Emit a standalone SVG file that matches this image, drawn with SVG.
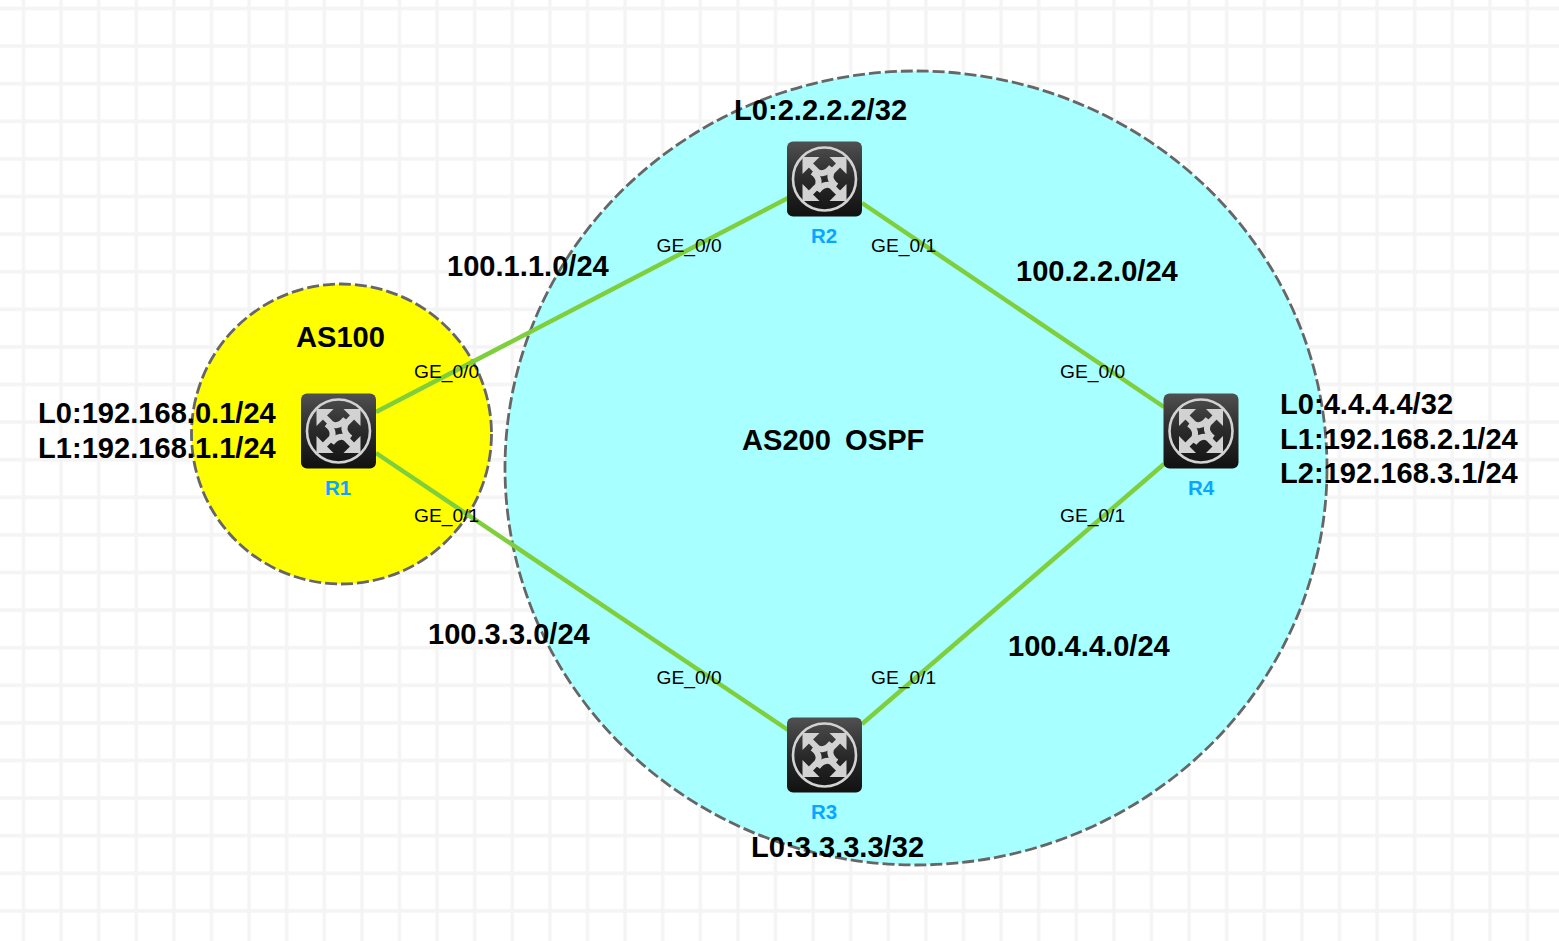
<svg xmlns="http://www.w3.org/2000/svg" width="1559" height="941" viewBox="0 0 1559 941">
<defs>
<pattern id="grid" width="37.6" height="37.6" patternUnits="userSpaceOnUse" x="4.7" y="-10.3">
<path d="M18.8 0V37.6M0 18.8H37.6" stroke="#f4f4f4" stroke-width="3.400" fill="none"/>
</pattern>
<linearGradient id="body" x1="0" y1="0" x2="0" y2="1"><stop offset="0" stop-color="#505050"/><stop offset="0.5" stop-color="#2a2a2a"/><stop offset="1" stop-color="#111"/></linearGradient>
<g id="arm">
<path d="M-22-22H-5L-22-5Z" fill="#d2d2d2"/>
<path d="M-15-15L-9-9C-5-4 2-5 7-12" fill="none" stroke="#d2d2d2" stroke-width="6"/>
</g>
<g id="router">
<rect x="-37.500" y="-37.500" width="75" height="75" rx="6" fill="url(#body)"/>
<circle r="31.500" fill="none" stroke="#d2d2d2" stroke-width="2.600"/>
<use href="#arm"/>
<use href="#arm" transform="rotate(90)"/>
<use href="#arm" transform="rotate(180)"/>
<use href="#arm" transform="rotate(270)"/>
</g>
</defs>
<style>
.b{font-family:"Liberation Sans",Arial,sans-serif;font-size:29.100px;font-weight:700;fill:#000}
.p{font-family:"Liberation Sans",Arial,sans-serif;font-size:19.200px;fill:#000}
.n{font-family:"Liberation Sans",Arial,sans-serif;font-size:20.500px;font-weight:700;fill:#0aa5ff;text-anchor:middle}
.z{stroke:#666;stroke-width:2.800;stroke-dasharray:12 4}
.l{stroke:#7fcf3c;stroke-width:4.500;fill:none}
</style>
<rect width="1559" height="941" fill="#fff"/>
<rect width="1559" height="941" fill="url(#grid)"/>
<g id="zones">
<ellipse id="as200" cx="916" cy="468" rx="411" ry="397" fill="#a8ffff" class="z"/>
<circle id="as100" cx="341.500" cy="434" r="150" fill="#ffff00" class="z"/>
</g>
<g id="connectors" class="l">
<path d="M376 412 788 198"/>
<path d="M376 453 788 730"/>
<path d="M862 203 1164 407"/>
<path d="M862 724 1164 464"/>
</g>
<g id="R1"><use href="#router" x="338.500" y="431"/><text class="n" x="338" y="495">R1</text></g>
<g id="R2"><use href="#router" x="824.500" y="179"/><text class="n" x="824" y="243">R2</text></g>
<g id="R3"><use href="#router" x="824.500" y="755"/><text class="n" x="824" y="819">R3</text></g>
<g id="R4"><use href="#router" x="1201" y="431"/><text class="n" x="1201" y="495">R4</text></g>
<g id="labels">
<text class="b" x="296" y="347">AS100</text>
<text class="b" x="742" y="450" xml:space="preserve" word-spacing="-1">AS200  OSPF</text>
<text class="b" x="38" y="423">L0:192.168.0.1/24</text>
<text class="b" x="38" y="458">L1:192.168.1.1/24</text>
<text class="b" x="734" y="120">L0:2.2.2.2/32</text>
<text class="b" x="751" y="857">L0:3.3.3.3/32</text>
<text class="b" x="1280" y="414">L0:4.4.4.4/32</text>
<text class="b" x="1280" y="449">L1:192.168.2.1/24</text>
<text class="b" x="1280" y="483">L2:192.168.3.1/24</text>
<text class="b" x="447" y="276">100.1.1.0/24</text>
<text class="b" x="1016" y="281">100.2.2.0/24</text>
<text class="b" x="428" y="644">100.3.3.0/24</text>
<text class="b" x="1008" y="656">100.4.4.0/24</text>
<text class="p" x="414" y="378">GE_0/0</text>
<text class="p" x="414" y="522">GE_0/1</text>
<text class="p" x="656.500" y="252">GE_0/0</text>
<text class="p" x="871" y="252">GE_0/1</text>
<text class="p" x="1060" y="378">GE_0/0</text>
<text class="p" x="1060" y="522">GE_0/1</text>
<text class="p" x="656.500" y="684">GE_0/0</text>
<text class="p" x="871" y="684">GE_0/1</text>
</g>
</svg>
